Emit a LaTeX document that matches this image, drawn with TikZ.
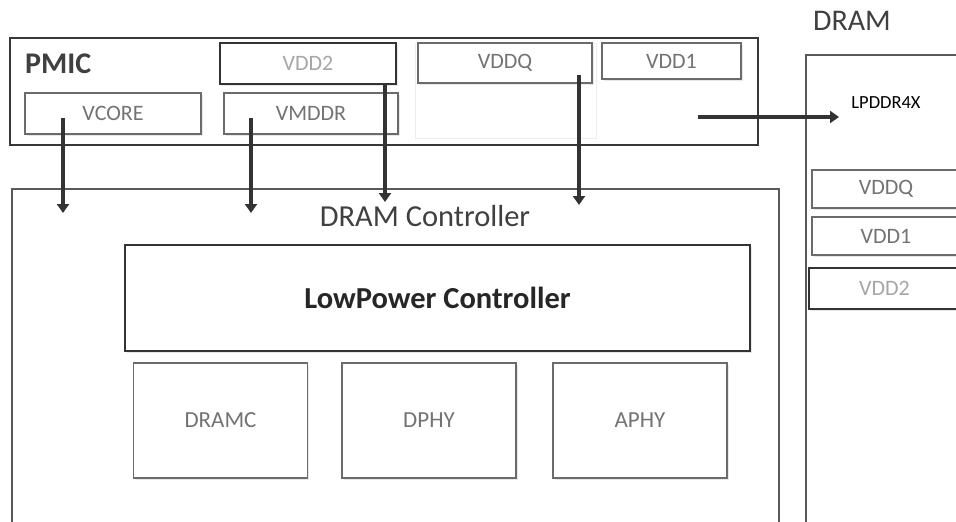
\documentclass[tikz,border=0pt]{standalone}
\usepackage{fontspec}
\setmainfont{Carlito}
\usetikzlibrary{arrows.meta,shadows}
\begin{document}
\begin{tikzpicture}[x=1pt,y=-1pt,
  blk/.style={draw=black!58, line width=1.3pt, fill=white, text=black!55, inner sep=0pt,
    font=\fontsize{22}{26}\selectfont, drop shadow={opacity=0.18, shadow xshift=1.5pt, shadow yshift=-1.5pt}},
  dark/.style={draw=black!80, line width=1.8pt},
  pale/.style={text=black!35},
  frame/.style={draw=black!65, line width=1.3pt, inner sep=0pt},
  big/.style={font=\fontsize{30.5}{35}\selectfont, text=black!75, inner sep=0pt},
  pwr/.style={draw=black!80, line width=4pt, -{Triangle[width=12pt,length=9pt]}}]
  \path[use as bounding box, clip] (0,0) rectangle (956,522);
  \fill[white] (0,0) rectangle (956,522);
  % PMIC
  \node[frame, draw=black!78, line width=2pt, minimum width=748pt, minimum height=107pt] (pmic) at (384,91.5) {};
  \node[big, anchor=west, font=\fontsize{30}{34}\selectfont\bfseries] (pmiclbl) at (25,64) {PMIC};
  \node[draw=black!7, line width=1pt, minimum width=181pt, minimum height=95pt] (spare) at (506,90.5) {};
  \node[blk, minimum width=176pt, minimum height=41pt] (vcore) at (113,113.5) {VCORE};
  \node[blk, minimum width=174pt, minimum height=41pt] (vmddr) at (311,113.5) {VMDDR};
  \node[blk, dark, pale, minimum width=176pt, minimum height=41pt] (vddtwo) at (308,63.5) {VDD2};
  \node[blk, minimum width=174pt, minimum height=40pt] (vddq) at (505,63) {VDDQ};
  \node[blk, minimum width=139pt, minimum height=36pt] (vddone) at (671.5,61) {VDD1};
  % DRAM controller
  \node[frame, minimum width=767pt, minimum height=411pt] (ctrl) at (395.5,394.5) {};
  \node[big] (ctrllbl) at (425,216) {DRAM Controller};
  \node[blk, dark, text=black!85, minimum width=625pt, minimum height=106pt,
    font=\fontsize{30.5}{35}\selectfont\bfseries] (lowpwr) at (437.5,298) {LowPower Controller};
  \foreach \n/\x in {DRAMC/220.5, DPHY/429, APHY/640}
    \node[blk, minimum width=174pt, minimum height=115pt, font=\fontsize{23}{27}\selectfont] (\n) at (\x,420.5) {\n};
  % DRAM
  \node[big, font=\fontsize{30}{35}\selectfont] (dramlbl) at (852,21) {DRAM};
  \node[frame, minimum width=194pt, minimum height=545pt] (dram) at (903,327.5) {};
  \node[inner sep=0pt, font=\fontsize{18.5}{22}\selectfont] (lpddr) at (886,103) {LPDDR4X};
  \node[blk, minimum width=148pt, minimum height=38pt] (rvddq) at (886,189) {VDDQ};
  \node[blk, minimum width=148pt, minimum height=38pt] (rvddone) at (886,236) {VDD1};
  \node[blk, dark, pale, minimum width=151pt, minimum height=41pt] (rvddtwo) at (884.5,288.5) {VDD2};
  % supply taps
  \foreach \n/\x/\a/\b in {vcore/63/118/213, vmddr/251/118/213, vddtwo/385/84/202, vddq/579/75/205} {
    \coordinate (\n-out) at (\x,\a);
    \coordinate (\n-in) at (\x,\b);
    \draw[pwr] (\n-out) -- (\n-in);
  }
  \coordinate (pmic-out) at (698,117);
  \coordinate (dram-in) at (839,117);
  \draw[pwr] (pmic-out) -- (dram-in);
\end{tikzpicture}
\end{document}
